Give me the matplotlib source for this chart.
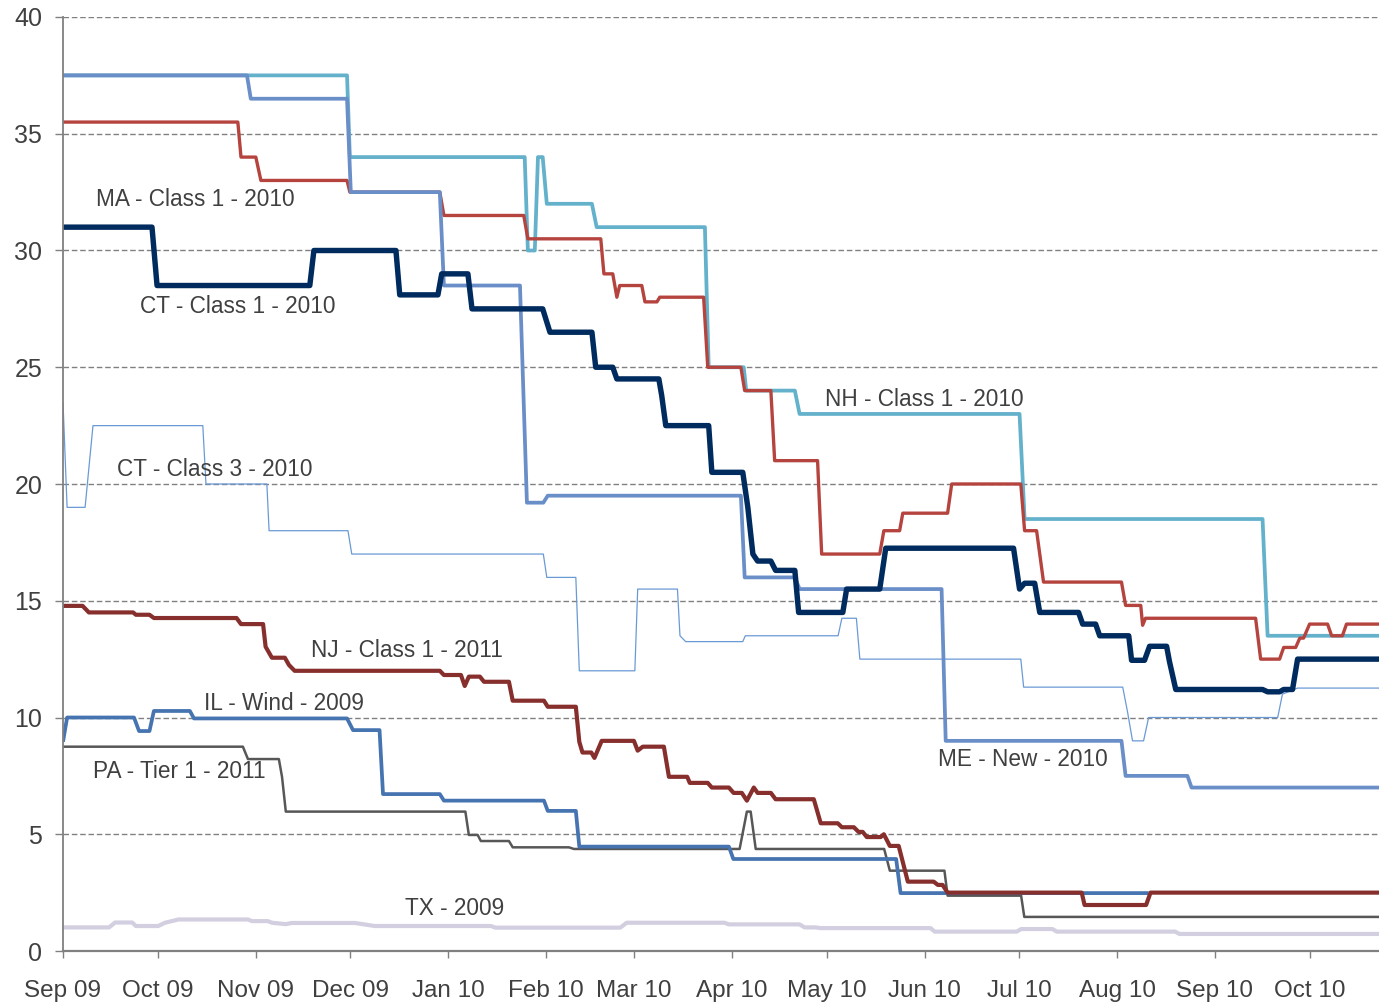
import matplotlib
matplotlib.use("Agg")
import matplotlib.pyplot as plt
import matplotlib.dates as mdates
import pandas as pd

# day offsets from 1 Sep 2009
start = pd.Timestamp("2009-09-01")
end_day = 417

nh_days = [0, 90, 90.9, 146.3, 147.3, 149.5, 150.5, 152, 153.3, 167.6, 169.1, 203.4, 204.6, 215.7, 216.5, 231.9, 233.4, 303.1, 304.7, 380.1, 381.7, 417]
nh_vals = [37.5, 37.5, 34, 34, 30, 30, 34, 34, 32, 32, 31, 31, 25, 25, 24, 24, 23, 23, 18.5, 18.5, 13.5, 13.5]

me_days = [0, 58.3, 59.5, 90, 91.2, 119.4, 120.7, 144.8, 147, 152.2, 153.6, 214.8, 216, 231.9, 233.4, 278.4, 279.7, 335.4, 336.7, 356.3, 357.6, 417]
me_vals = [37.5, 37.5, 36.5, 36.5, 32.5, 32.5, 28.5, 28.5, 19.2, 19.2, 19.5, 19.5, 16, 16, 15.5, 15.5, 9, 9, 7.5, 7.5, 7, 7]

ma_days = [0, 55.4, 56.4, 61.1, 62.7, 90, 90.9, 119.4, 120.7, 146, 147.3, 170.4, 171.4, 174.2, 175.5, 176.4, 183.4, 184.4,
           188.2, 189.1, 203, 204.3, 214.8, 216, 224.3, 225.5, 239.1, 240.4, 258.8, 260.1, 265.1, 266.1, 280.3, 281.6,
           303.5, 304.7, 308.5, 310.7, 335.4, 336.7, 341.5, 342.1, 343, 377.9, 379.5, 385.5, 386.8, 390.6, 391.9, 393.1,
           395, 400.7, 402, 405.4, 406.7, 417]
ma_vals = [35.5, 35.5, 34, 34, 33, 33, 32.5, 32.5, 31.5, 31.5, 30.5, 30.5, 29, 29, 28, 28.5, 28.5, 27.8,
           27.8, 28, 28, 25, 25, 24, 24, 21, 21, 17, 17, 18, 18, 18.75, 18.75, 20,
           20, 18, 18, 15.8, 15.8, 14.8, 14.8, 13.95, 14.25, 14.25, 12.5, 12.5, 13, 13, 13.4, 13.4,
           14, 14, 13.5, 13.5, 14, 14]

ct1_days = [0, 28.2, 29.8, 78.2, 79.5, 105.5, 106.7, 118.8, 120, 128.3, 129.6, 152, 154.3, 167.6, 168.8, 174.2, 175.5,
            188.8, 189.7, 191, 204.6, 205.6, 215.4, 217, 218.6, 220.1, 224.3, 225.8, 231.9, 233.1, 247.1, 248.3, 258.8,
            260.7, 301.2, 303.1, 304.7, 307.9, 309.5, 321.8, 323.1, 327.2, 328.5, 337.7, 338.6, 342.7, 344.3, 349.7,
            350.6, 352.6, 380.1, 381.7, 385.5, 386.8, 389.6, 391.2, 417]
ct1_vals = [31, 31, 28.5, 28.5, 30, 30, 28.1, 28.1, 29, 29, 27.5, 27.5, 26.5, 26.5, 25, 25, 24.5,
            24.5, 23.8, 22.5, 22.5, 20.5, 20.5, 19, 17, 16.7, 16.7, 16.3, 16.3, 14.5, 14.5, 15.5, 15.5,
            17.25, 17.25, 15.5, 15.75, 15.75, 14.5, 14.5, 14, 14, 13.5, 13.5, 12.45, 12.45, 13.05, 13.05,
            12.4, 11.2, 11.2, 11.1, 11.1, 11.2, 11.2, 12.5, 12.5]

ct3_days = [0, 1.3, 7, 9.5, 44.3, 45.3, 64.6, 65.3, 90.3, 91.5, 152.2, 153.3, 162.5, 163.6, 181.2, 182.1, 194.7, 195.5,
            197.3, 215.4, 216.2, 245.6, 246.8, 251.4, 252.5, 303.5, 304.4, 335.8, 337.3, 338.9, 342.4, 344, 384.9,
            386.4, 391.2, 417]
ct3_vals = [23.5, 19, 19, 22.5, 22.5, 20, 20, 18, 18, 17, 17, 16, 16, 12, 12, 15.5, 15.5, 13.5,
            13.25, 13.25, 13.5, 13.5, 14.25, 14.25, 12.5, 12.5, 11.3, 11.3, 10.25, 9, 9, 10, 10,
            11, 11.26, 11.26]

nj_days = [0, 6.2, 8.2, 22.2, 23.1, 27.4, 28.8, 55, 56.4, 63.4, 64.2, 66.2, 70.3, 71.6, 73.4, 119.4, 120.7, 126.1,
           127.3, 128.6, 132.1, 133.4, 141.3, 142.5, 152.4, 153.6, 162.5, 163.6, 164.6, 167.4, 168.4, 170.7, 180.9,
           182.1, 183.7, 190.4, 192, 197.8, 198.6, 204.3, 205.6, 211, 212.5, 215.1, 216.7, 218.9, 220.1, 224.3,
           225.8, 237.9, 240.1, 245.5, 246.8, 250.6, 252.1, 253.4, 254.7, 259.1, 260.1, 262, 264.8, 267.7, 275.9,
           277.2, 278.7, 280.3, 322.8, 323.7, 343.2, 344.6, 417]
nj_vals = [14.78, 14.78, 14.5, 14.5, 14.4, 14.4, 14.26, 14.26, 14, 14, 13.03, 12.56, 12.56, 12.25, 12, 12, 11.82, 11.82,
           11.35, 11.75, 11.75, 11.53, 11.53, 10.72, 10.72, 10.46, 10.46, 8.96, 8.5, 8.5, 8.27, 9, 9,
           8.58, 8.75, 8.75, 7.46, 7.46, 7.2, 7.2, 7, 7, 6.77, 6.77, 6.44, 7, 6.77, 6.77,
           6.5, 6.5, 5.47, 5.47, 5.3, 5.3, 5.1, 5.1, 4.88, 4.88, 5, 4.5, 4.5, 2.97, 2.97,
           2.83, 2.83, 2.5, 2.5, 1.97, 1.97, 2.5, 2.5]

il_days = [0, 1.3, 22.5, 24.1, 27.4, 28.8, 40.2, 41.5, 90, 91.9, 100.3, 101.4, 119.4, 120.7, 152.4, 153.6, 162.5,
           163.6, 211, 212.4, 264, 265.4, 344]
il_vals = [8.96, 10, 10, 9.42, 9.42, 10.28, 10.28, 9.96, 9.96, 9.46, 9.46, 6.72, 6.72, 6.44, 6.44, 6, 6,
           4.47, 4.47, 3.94, 3.94, 2.48, 2.48]

pa_days = [0, 57, 58.6, 68.4, 69.4, 70.6, 127.5, 128.6, 131.4, 132.4, 141.3, 142.5, 160.3, 161.9, 214.4, 216.7,
           217.9, 219.5, 260.2, 262, 279.3, 280.3, 303.6, 304.6, 417]
pa_vals = [8.75, 8.75, 8.22, 8.22, 7.46, 5.97, 5.97, 4.97, 4.97, 4.71, 4.71, 4.44, 4.44, 4.37, 4.37, 5.97,
           5.97, 4.37, 4.37, 3.44, 3.44, 2.37, 2.37, 1.46, 1.46]

tx_days = [0, 14.6, 16.5, 21.9, 23.1, 30.2, 32.3, 36.6, 58.6, 59.9, 64.9, 66.2, 70.6, 72.5, 92.5, 98.8, 135.6, 137,
           176.6, 178.6, 209.6, 211, 233.4, 235, 238.5, 240, 274.9, 276.2, 302.2, 303.6, 313.5, 314.9, 352.4, 353.8, 417]
tx_vals = [1.01, 1.01, 1.22, 1.22, 1.07, 1.07, 1.21, 1.35, 1.35, 1.28, 1.28, 1.21, 1.15, 1.2, 1.2, 1.07, 1.07, 1.0,
           1.0, 1.21, 1.21, 1.14, 1.14, 1.01, 1.01, 0.98, 0.98, 0.83, 0.83, 0.94, 0.94, 0.83, 0.83, 0.73, 0.73]

series_names = ["TX - 2009", "PA - Tier 1 - 2011", "IL - Wind - 2009", "NJ - Class 1 - 2011", "CT - Class 3 - 2010",
                "NH - Class 1 - 2010", "MA - Class 1 - 2010", "ME - New - 2010", "CT - Class 1 - 2010"]
series_days = [tx_days, pa_days, il_days, nj_days, ct3_days, nh_days, ma_days, me_days, ct1_days]
series_vals = [tx_vals, pa_vals, il_vals, nj_vals, ct3_vals, nh_vals, ma_vals, me_vals, ct1_vals]
colors = ["#D3CFE0", "#575757", "#4574B1", "#862F2D", "#6A9AD6", "#63B1CB", "#B5443F", "#6A8EC8", "#002B5E"]
widths = [3.0, 1.8, 2.7, 3.0, 0.9, 2.7, 2.4, 2.7, 3.9]

# label anchor (day, value), left aligned
label_days = [108.3, 9.5, 44.7, 78.6, 17.1, 241.4, 10.5, 277.2, 24.4]
label_vals = [1.8, 7.7, 10.6, 12.85, 20.6, 23.6, 32.2, 8.2, 27.6]

plt.rcParams['font.family'] = ['Liberation Sans', 'DejaVu Sans']

def to_dates(days):
    return start + pd.to_timedelta(days, unit="D")

fig = plt.figure(figsize=(13.79, 10.05), dpi=100)
ax = fig.add_axes([63/1379, 1 - 951/1005, (1379 - 63)/1379, (951 - 17)/1005])

for d, v, c, w in zip(series_days, series_vals, colors, widths):
    ax.plot(to_dates(d), v, color=c, lw=w, solid_joinstyle="round", solid_capstyle="butt")

for name, d, v in zip(series_names, label_days, label_vals):
    ax.text(to_dates([d])[0], v, name, ha="left", va="center", fontsize=16.3, color="#404040")

ax.set_ylim(0, 40)
ax.set_xlim(start, start + pd.Timedelta(days=end_day))
ax.set_yticks(range(0, 41, 5))
ax.yaxis.grid(True, linestyle=(0, (4, 2)), color="#808080", lw=1)
ax.set_axisbelow(True)

months = pd.date_range("2009-09-01", "2010-10-01", freq="MS")
ax.set_xticks(months)
ax.xaxis.set_major_formatter(mdates.DateFormatter("%b %y"))

for s in ["top", "right"]:
    ax.spines[s].set_visible(False)
ax.spines["left"].set_color("#808080")
ax.spines["bottom"].set_color("#808080")
ax.spines["left"].set_linewidth(1.3)
ax.spines["bottom"].set_linewidth(1.6)
ax.tick_params(axis="y", length=6, width=1, color="#808080", labelsize=18, labelcolor="#404040", pad=9)
ax.tick_params(axis="x", length=5, width=1, color="#808080", labelsize=17.5, labelcolor="#404040", pad=16)

fig.savefig("out.png", dpi=100)
